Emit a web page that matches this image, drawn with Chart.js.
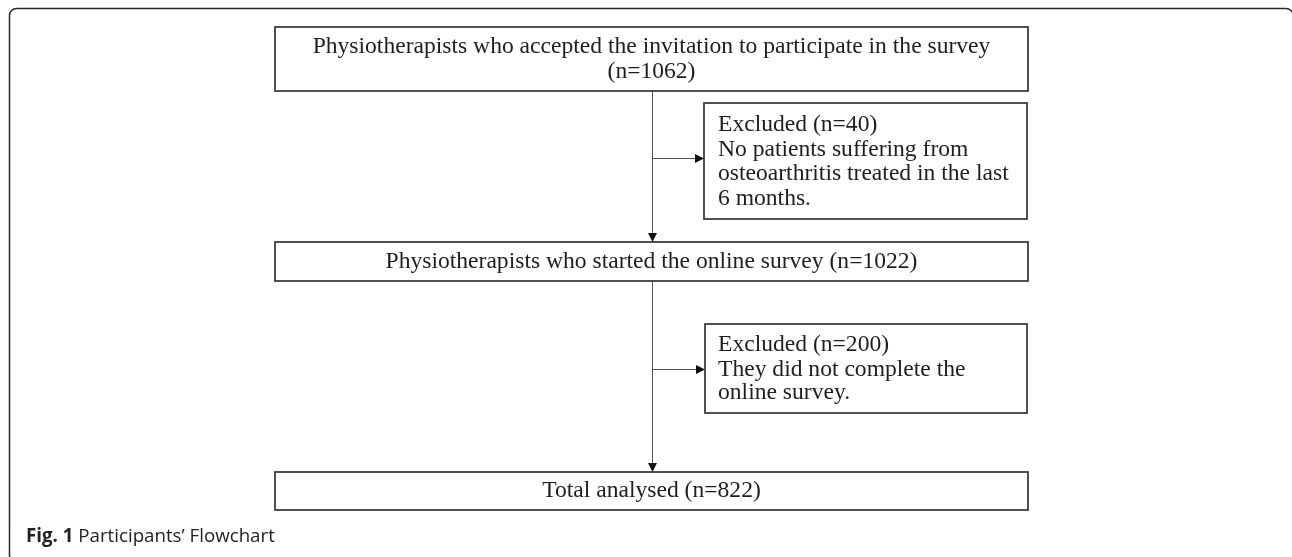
<!DOCTYPE html>
<html>
<head>
<meta charset="utf-8">
<script src="https://cdn.jsdelivr.net/npm/chart.js@4/dist/chart.umd.min.js"></script>
<style>
  html, body { margin: 0; padding: 0; background: #ffffff; }
  #wrap { width: 1292px; height: 557px; position: relative; }
</style>
</head>
<body>
<div id="wrap"><canvas id="c" width="1292" height="557"></canvas></div>
<script>
// ---- data ----
const stageLabels = [
  "Physiotherapists who accepted the invitation to participate in the survey",
  "Physiotherapists who started the online survey",
  "Total analysed"
];
const stageCounts = [1062, 1022, 822];
const exclusionTitles = ["Excluded", "Excluded"];
const exclusionCounts = [40, 200];
const exclusionReasons = [
  ["No patients suffering from", "osteoarthritis treated in the last", "6 months."],
  ["They did not complete the", "online survey."]
];
const captionBold = "Fig. 1";
const captionText = " Participants\u2019 Flowchart";

// ---- layout (diagram units, mapped through the chart scales) ----
const layout = {
  frame: { x0: 9.5, y0: 8.5, x1: 1293, y1: 562, r: 7 },
  spineX: 652,
  stageBoxes: [
    { x0: 275, x1: 1028, y0: 27, y1: 91, lines: [47, 72], split: true },
    { x0: 275, x1: 1028, y0: 242, y1: 281, lines: [262], split: false },
    { x0: 275, x1: 1028, y0: 472, y1: 510, lines: [491], split: false }
  ],
  exclBoxes: [
    { x0: 704, x1: 1027, y0: 103, y1: 219, branchY: 158, textX: 718, lines: [125, 150, 174, 199] },
    { x0: 705, x1: 1027, y0: 324, y1: 413, branchY: 369, textX: 718, lines: [345, 370, 393] }
  ],
  caption: { x: 26, y: 537, width: 249 },
  refLineWidth: 678
};

const serif = '"Liberation Serif", "DejaVu Serif", serif';
const sans = '"Open Sans", "Noto Sans", sans-serif';

function fitSize(ctx, text, family, weight, target) {
  ctx.font = weight + ' 20px ' + family;
  const w = ctx.measureText(text).width;
  return 20 * target / w;
}

const flowPlugin = {
  id: 'flow',
  afterDraw(chart) {
    const ctx = chart.ctx;
    const sx = chart.scales.x, sy = chart.scales.y;
    const X = v => sx.getPixelForValue(v);
    const Y = v => sy.getPixelForValue(v);
    ctx.save();

    // outer frame
    const f = layout.frame;
    ctx.strokeStyle = '#2b2b2b';
    ctx.lineWidth = 1.5;
    ctx.beginPath();
    ctx.roundRect(X(f.x0), Y(f.y0), X(f.x1) - X(f.x0), Y(f.y1) - Y(f.y0), f.r);
    ctx.stroke();

    // connectors
    ctx.strokeStyle = '#555555';
    ctx.fillStyle = '#111111';
    ctx.lineWidth = 1;
    const sp = X(layout.spineX) + 0.5;
    const boxes = layout.stageBoxes;
    function arrowDown(x, yTip) {
      ctx.beginPath();
      ctx.moveTo(x - 4.5, yTip - 9);
      ctx.lineTo(x + 4.5, yTip - 9);
      ctx.lineTo(x, yTip);
      ctx.closePath();
      ctx.fill();
    }
    function arrowRight(xTip, y) {
      ctx.beginPath();
      ctx.moveTo(xTip - 9, y - 4.5);
      ctx.lineTo(xTip - 9, y + 4.5);
      ctx.lineTo(xTip, y);
      ctx.closePath();
      ctx.fill();
    }
    for (let i = 0; i < boxes.length - 1; i++) {
      const yA = Y(boxes[i].y1), yB = Y(boxes[i + 1].y0);
      ctx.beginPath();
      ctx.moveTo(sp, yA);
      ctx.lineTo(sp, yB - 6);
      ctx.stroke();
      arrowDown(sp, yB);
      const e = layout.exclBoxes[i];
      const by = Y(e.branchY) + 0.5;
      ctx.beginPath();
      ctx.moveTo(sp, by);
      ctx.lineTo(X(e.x0) - 6, by);
      ctx.stroke();
      arrowRight(X(e.x0), by);
    }

    // boxes
    ctx.strokeStyle = '#333333';
    ctx.lineWidth = 1.7;
    const allBoxes = boxes.concat(layout.exclBoxes);
    allBoxes.forEach(b => {
      ctx.strokeRect(X(b.x0), Y(b.y0), X(b.x1) - X(b.x0), Y(b.y1) - Y(b.y0));
    });

    // text
    const fs = fitSize(ctx, stageLabels[0], serif, 'normal', layout.refLineWidth);
    ctx.font = 'normal ' + fs.toFixed(2) + 'px ' + serif;
    ctx.fillStyle = '#1e1e1e';
    ctx.textBaseline = 'middle';
    ctx.textAlign = 'center';
    boxes.forEach((b, i) => {
      const cx = (X(b.x0) + X(b.x1)) / 2;
      const nText = '(n=' + stageCounts[i] + ')';
      if (b.split) {
        ctx.fillText(stageLabels[i], cx, Y(b.lines[0]));
        ctx.fillText(nText, cx, Y(b.lines[1]));
      } else {
        ctx.fillText(stageLabels[i] + ' ' + nText, cx, Y(b.lines[0]));
      }
    });
    ctx.textAlign = 'left';
    layout.exclBoxes.forEach((e, i) => {
      const lines = [exclusionTitles[i] + ' (n=' + exclusionCounts[i] + ')'].concat(exclusionReasons[i]);
      lines.forEach((t, k) => ctx.fillText(t, X(e.textX), Y(e.lines[k])));
    });

    // caption
    const c = layout.caption;
    ctx.font = 'bold 20px ' + sans;
    const wb = ctx.measureText(captionBold).width;
    ctx.font = 'normal 20px ' + sans;
    const wn = ctx.measureText(captionText).width;
    const cs = 20 * c.width / (wb + wn);
    ctx.fillStyle = '#222222';
    ctx.font = 'bold ' + cs.toFixed(2) + 'px ' + sans;
    ctx.fillText(captionBold, X(c.x), Y(c.y));
    const wb2 = ctx.measureText(captionBold).width;
    ctx.font = 'normal ' + cs.toFixed(2) + 'px ' + sans;
    ctx.fillText(captionText, X(c.x) + wb2, Y(c.y));

    ctx.restore();
  }
};

new Chart(document.getElementById('c'), {
  type: 'scatter',
  data: { datasets: [{ label: 'flow', data: [], pointRadius: 0 }] },
  options: {
    responsive: false,
    animation: false,
    devicePixelRatio: 1,
    layout: { padding: 0 },
    plugins: { legend: { display: false }, tooltip: { enabled: false } },
    scales: {
      x: { type: 'linear', min: 0, max: 1292, display: false },
      y: { type: 'linear', min: 0, max: 557, reverse: true, display: false }
    }
  },
  plugins: [flowPlugin]
});
</script>
</body>
</html>
